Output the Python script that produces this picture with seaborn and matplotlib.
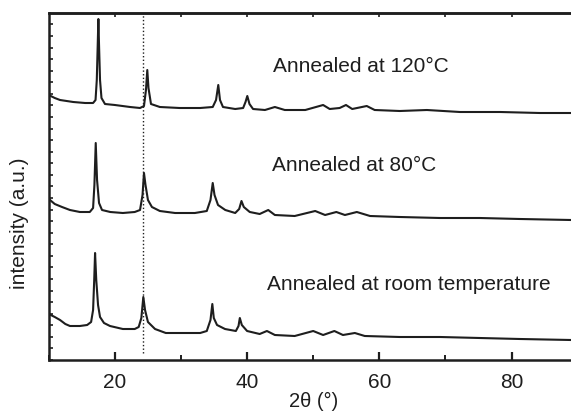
import numpy as np
import pandas as pd
import matplotlib
matplotlib.use("Agg")
import matplotlib.pyplot as plt
import seaborn as sns
from matplotlib.ticker import MultipleLocator, NullFormatter

# ---- data (2theta in degrees, intensity in a.u.) ----
two_theta_120 = [10.0, 10.9, 11.7, 13.7, 15.5, 16.7, 17.07, 17.26, 17.4, 17.5, 17.6, 17.75,
                 17.97, 18.5, 20.0, 22.3, 23.8, 24.4, 24.7, 24.9, 25.08, 25.46, 26.8, 29.8,
                 32.9, 34.8, 35.3, 35.64, 35.9, 36.35, 38.2, 39.4, 39.76, 40.03, 40.36, 40.9,
                 42.7, 44.2, 45.7, 48.8, 51.5, 52.5, 54.0, 54.96, 55.9, 58.1, 59.3, 63.1,
                 67.2, 72.2, 78.3, 84.3, 89.0, 90.0]
intensity_120 = [265, 262, 260, 258, 257, 257, 260, 280, 315, 341, 315, 280,
                 262, 256, 255, 253, 252, 254, 270, 290, 272, 256, 253, 252,
                 252, 253, 260, 275, 260, 253, 251, 252, 258, 264, 256, 251,
                 250, 253, 250, 250, 255, 251, 252, 255, 251, 254, 250, 249,
                 250, 248, 248, 247, 247, 247]

two_theta_80 = [10.0, 10.9, 12.0, 13.2, 14.7, 16.2, 16.7, 16.9, 17.1, 17.3, 17.6, 18.05,
                19.3, 21.2, 23.0, 23.8, 24.18, 24.4, 24.63, 25.0, 25.6, 26.8, 29.1, 32.1,
                33.9, 34.46, 34.8, 35.07, 35.6, 36.7, 38.2, 38.8, 39.15, 39.5, 40.4, 41.9,
                43.2, 44.2, 47.2, 50.3, 51.8, 53.5, 54.8, 56.6, 58.6, 63.1, 69.2, 75.2,
                81.3, 89.0, 90.0]
intensity_80 = [161, 156, 153, 150, 148, 148, 152, 175, 217, 180, 157, 150,
                148, 147, 148, 150, 165, 187, 175, 160, 153, 149, 147, 147,
                149, 160, 177, 165, 155, 150, 147, 151, 159, 153, 148, 146,
                150, 145, 144, 149, 145, 148, 145, 148, 144, 143, 142, 142,
                141, 140, 140]

two_theta_rt = [10.0, 10.9, 11.7, 12.5, 13.2, 14.7, 15.8, 16.4, 16.7, 16.87, 17.0, 17.18,
                17.45, 17.75, 18.35, 19.26, 21.2, 23.0, 23.6, 24.0, 24.3, 24.56, 25.0, 26.07,
                27.7, 29.85, 32.9, 33.9, 34.46, 34.74, 34.96, 35.45, 36.66, 38.3, 38.7, 38.9,
                39.2, 40.0, 41.9, 43.0, 44.2, 47.2, 50.0, 51.5, 53.2, 54.5, 56.3, 57.8,
                63.1, 69.2, 75.2, 81.3, 89.0, 90.0]
intensity_rt = [46, 43, 40, 36, 34, 34, 35, 38, 50, 80, 107, 80,
                55, 43, 37, 34, 31, 31, 33, 42, 63, 50, 38, 31,
                27, 27, 27, 29, 40, 56, 42, 35, 31, 29, 34, 42,
                35, 29, 26, 29, 25, 24, 29, 25, 29, 25, 27, 24,
                23, 23, 22, 21, 20, 20]

series_labels = ["Annealed at 120°C", "Annealed at 80°C", "Annealed at room temperature"]
label_x = [43.9, 43.7, 43.0]
label_y = [294, 195, 75]
reference_line_x = 24.3
x_major_ticks = [20, 40, 60, 80]

# ---- styling ----
sns.set_theme(style="ticks")
plt.rcParams["font.family"] = ["Liberation Sans", "DejaVu Sans"]
ink = "#1e1e1e"

fig = plt.figure(figsize=(5.71, 4.12), dpi=100)
ax = fig.add_axes([48.8 / 571, (412 - 360) / 412, (577.6 - 48.8) / 571, 347 / 412])

frames = []
for name, xs, ys in [(series_labels[0], two_theta_120, intensity_120),
                     (series_labels[1], two_theta_80, intensity_80),
                     (series_labels[2], two_theta_rt, intensity_rt)]:
    frames.append(pd.DataFrame({"two_theta": xs, "intensity": ys, "sample": name}))
df = pd.concat(frames, ignore_index=True)

for name in series_labels:
    sub = df[df["sample"] == name]
    sns.lineplot(data=sub, x="two_theta", y="intensity", ax=ax, sort=False,
                 color=ink, linewidth=1.5, legend=False, estimator=None)

ax.axvline(reference_line_x, ymin=0.02, ymax=1.0, color=ink, linestyle=(0, (1, 1.6)),
           linewidth=1.0)

for txt, tx, ty in zip(series_labels, label_x, label_y):
    ax.text(tx, ty, txt, fontsize=15, color=ink, va="center", ha="left")

ax.set_xlim(10, 90)
ax.set_ylim(0, 347)
ax.set_xticks(x_major_ticks)
ax.xaxis.set_minor_locator(MultipleLocator(10))
ax.yaxis.set_major_locator(MultipleLocator(11.57))
ax.yaxis.set_major_formatter(NullFormatter())

ax.tick_params(axis="x", which="major", direction="in", length=6, width=1.6,
               labelsize=15, labelcolor=ink, pad=9, color=ink)
ax.tick_params(axis="x", which="minor", direction="in", length=3.5, width=1.4, color=ink)
ax.tick_params(axis="y", which="major", direction="in", length=3, width=1.2, color=ink)

sec = ax.secondary_xaxis("top")
sec.set_xticks([20, 30, 40, 50, 60, 70, 80])
sec.tick_params(direction="in", length=3, width=1.2, labeltop=False, color=ink)
sec.spines["top"].set_linewidth(1.8)
sec.spines["top"].set_color(ink)

for side in ["left", "bottom", "top", "right"]:
    ax.spines[side].set_linewidth(1.8)
    ax.spines[side].set_color(ink)

ax.set_xlabel("2θ (°)", fontsize=14.5, color=ink)
ax.set_ylabel("intensity (a.u.)", fontsize=15, color=ink)
ax.xaxis.set_label_coords(0.5, -0.092)
ax.yaxis.set_label_coords(-0.038, 0.393)

fig.savefig("out.png", dpi=100)
